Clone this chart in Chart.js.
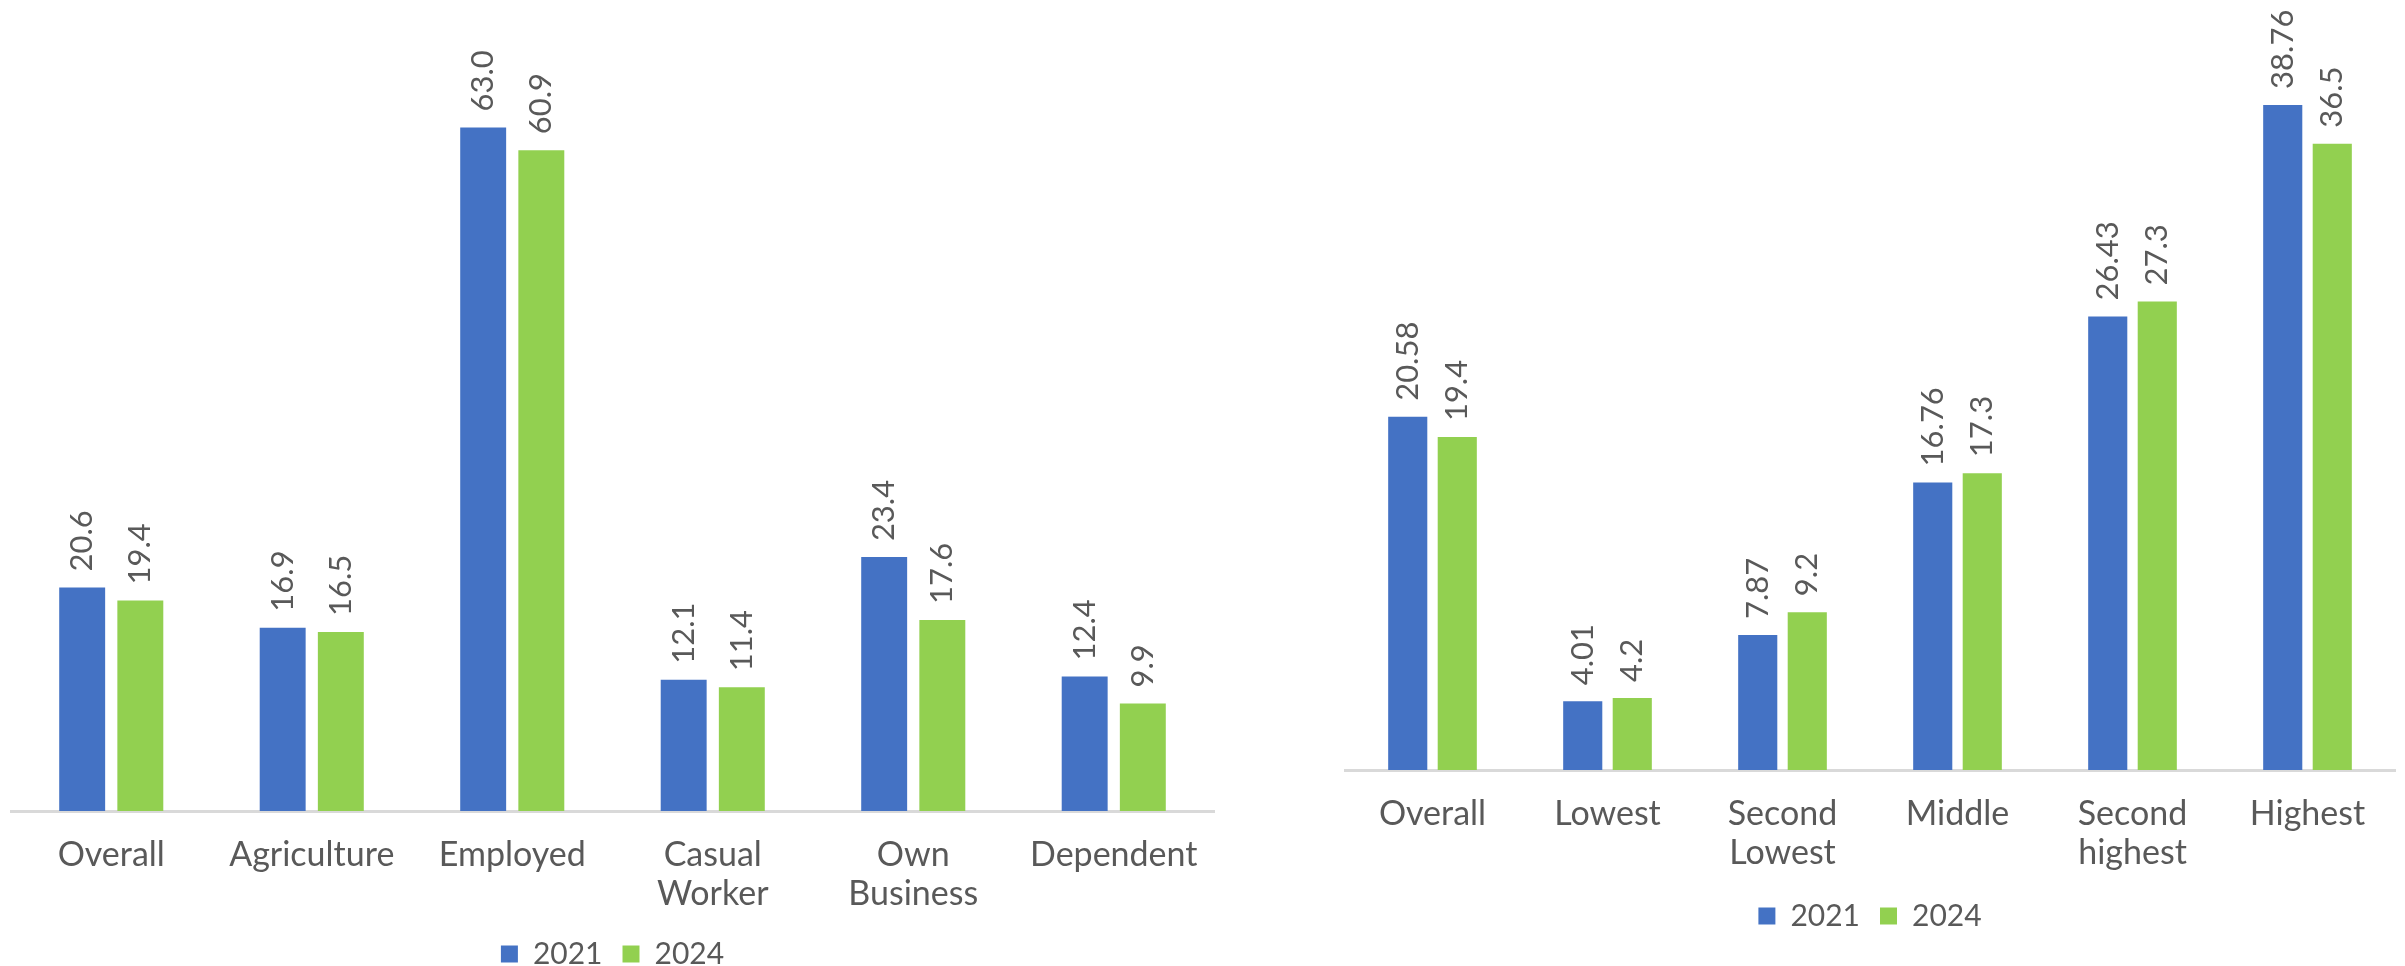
<!DOCTYPE html>
<html>
<head>
<meta charset="utf-8">
<title>Bar charts 2021 vs 2024</title>
<script src="https://cdn.jsdelivr.net/npm/chart.js@4.4.1/dist/chart.umd.min.js"></script>
<style>
  html, body { margin: 0; padding: 0; background: #fff; overflow: hidden; width: 2405px; height: 966px; }
  .panel { position: absolute; top: 0; }
  #leftPanel { left: 0; width: 1230px; height: 1007px; }
  #rightPanel { left: 1230px; width: 1175px; height: 966px; }
</style>
</head>
<body>
<div class="panel" id="leftPanel"><canvas id="occupationChart"></canvas></div>
<div class="panel" id="rightPanel"><canvas id="wealthChart"></canvas></div>
<script>
// series
const seriesNames = ['2021', '2024'];
const seriesColors = ['#4472C4', '#92D050'];

// left chart: by occupation
const occupationLabels = ['Overall', 'Agriculture', 'Employed', ['Casual', 'Worker'], ['Own', 'Business'], 'Dependent'];
const occupation2021 = [20.6, 16.9, 63.0, 12.1, 23.4, 12.4];
const occupation2024 = [19.4, 16.5, 60.9, 11.4, 17.6, 9.9];

// right chart: by quintile
const quintileLabels = ['Overall', 'Lowest', ['Second', 'Lowest'], 'Middle', ['Second', 'highest'], 'Highest'];
const quintile2021 = [20.58, 4.01, 7.87, 16.76, 26.43, 38.76];
const quintile2024 = [19.4, 4.2, 9.2, 17.3, 27.3, 36.5];

const FONT = "Lato, 'Open Sans', sans-serif";
const TEXT = '#595959';

// rotated value labels above each bar
const barValueLabels = {
  id: 'barValueLabels',
  afterDatasetsDraw(chart, args, opts) {
    const { ctx } = chart;
    ctx.save();
    ctx.font = `${opts.size}px ${FONT}`;
    ctx.fillStyle = TEXT;
    ctx.textAlign = 'left';
    ctx.textBaseline = 'middle';
    chart.data.datasets.forEach((ds, i) => {
      chart.getDatasetMeta(i).data.forEach((bar, j) => {
        const v = ds.data[j];
        const txt = opts.digits >= 0 ? v.toFixed(opts.digits) : String(v);
        ctx.save();
        ctx.translate(bar.x, bar.y - opts.offset);
        ctx.rotate(-Math.PI / 2);
        ctx.fillText(txt, 0, 0);
        ctx.restore();
      });
    });
    ctx.restore();
  }
};

function makeBarChart(id, labels, a, b, cfg) {
  const el = document.getElementById(id);
  if (!el) return null;

  return new Chart(el.getContext('2d'), {
    type: 'bar',
    data: {
      labels,
      datasets: [a, b].map((data, i) => ({
        label: seriesNames[i],
        data,
        backgroundColor: seriesColors[i],
        borderWidth: 0,
        categoryPercentage: cfg.catPct,
        barPercentage: 0.79
      }))
    },
    options: {
      responsive: true,
      maintainAspectRatio: false,
      animation: false,
      layout: { padding: cfg.padding },
      plugins: {
        legend: {
          position: 'bottom',
          labels: {
            color: TEXT,
            boxWidth: 17,
            boxHeight: 17,
            padding: 20,
            font: { family: FONT, size: 30 }
          }
        },
        tooltip: { enabled: false },
        barValueLabels: { size: 31, offset: 16, digits: cfg.digits }
      },
      scales: {
        x: {
          grid: { display: false, drawTicks: false },
          border: { display: true, color: '#d9d9d9', width: 3 },
          ticks: {
            color: TEXT,
            padding: 24,
            maxRotation: 0,
            autoSkip: false,
            font: { family: FONT, size: 34, lineHeight: 1.15 }
          },
          afterFit: (scale) => { scale.height = cfg.axisHeight; }
        },
        y: { display: false, min: 0, max: cfg.yMax }
      }
    },
    plugins: [barValueLabels]
  });
}

makeBarChart('occupationChart', occupationLabels, occupation2021, occupation2024, {
  catPct: 0.58,
  yMax: 70,
  digits: 1,
  axisHeight: 108,
  padding: { left: 11, right: 16, top: 51.5, bottom: 28 }
});

makeBarChart('wealthChart', quintileLabels, quintile2021, quintile2024, {
  catPct: 0.566,
  yMax: 40,
  digits: -1,
  axisHeight: 111,
  padding: { left: 115, right: 10, top: 83.6, bottom: 25 }
});
</script>
</body>
</html>
